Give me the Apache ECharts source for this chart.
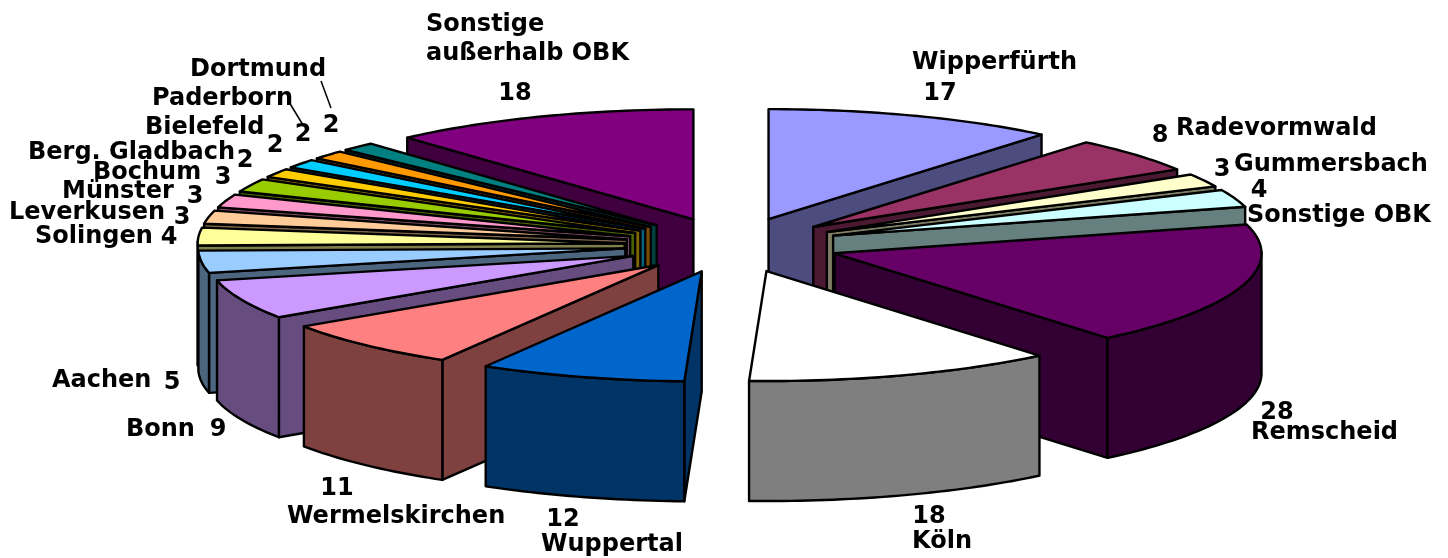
<!DOCTYPE html>
<html>
<head>
<meta charset="utf-8">
<title>Herkunft</title>
<style>
html,body{margin:0;padding:0;background:#fff;}
#main{width:1448px;height:558px;}
</style>
<script src="https://cdn.jsdelivr.net/npm/echarts@6/dist/echarts.min.js"></script>
</head>
<body>
<div id="main"></div>
<script>
var categories = ["Wipperfürth","Radevormwald","Gummersbach","Sonstige OBK","Remscheid","Köln","Wuppertal","Wermelskirchen","Bonn","Aachen","Solingen","Leverkusen","Münster","Bochum","Berg. Gladbach","Bielefeld","Paderborn","Dortmund","Sonstige außerhalb OBK"];
var values = [17,8,3,4,28,18,12,11,9,5,4,3,3,3,2,2,2,2,18];
var sliceColors = ["#9999ff","#993366","#ffffcc","#ccffff","#660066","#ffffff","#0066cc","#ff8080","#cc99ff","#99ccff","#ffff99","#ffcc99","#ff99cc","#99cc00","#ffcc00","#00ccff","#ff9900","#008080","#800080"];

// Beschriftung: [Name links, Name y, Wert mitte x, Wert y]
var nameSpots = [[912,61],[1176,127],[1234,163],[1247,214],[1251,431],[912,540],[541,543],[287,515],[126,428],[52,379],[35,235],[9,211],[62,190],[93,171],[28,151],[145,126],[152,97],[190,68]];
var valueSpots = [[940,92],[1160,134],[1222,168],[1259,189],[1277,411],[929,515],[563,518],[337,487],[218,428],[172,381],[169,236],[182,216],[195,195],[223,176],[245,159],[275,144],[303,133],[331,124],[515,92]];
var leaderLines = [[321,81,331,108],[289,102,303,125]];

// Geometrie der Torte
var cx = 732, cy = 245, rx = 427, ry = 110, depth = 120, explodeX = 107.5, explodeY = 27.5;

var total = 0;
for (var i = 0; i < values.length; i++) total += values[i];

var slices = [], sum = 0;
for (var i = 0; i < values.length; i++) {
    var a0 = sum / total * Math.PI * 2;
    sum += values[i];
    var a1 = sum / total * Math.PI * 2;
    slices.push({idx: i, a0: a0, a1: a1, mid: (a0 + a1) / 2});
}
// hinten zuerst zeichnen
var drawOrder = slices.slice().sort(function (a, b) {
    return Math.cos(b.mid) - Math.cos(a.mid);
});

function darker(hex) {
    var n = parseInt(hex.slice(1), 16);
    return "rgb(" + ((n >> 16) >> 1) + "," + (((n >> 8) & 255) >> 1) + "," + ((n & 255) >> 1) + ")";
}

function renderSlice(params, api) {
    var s = slices[api.value(0)];
    var ax = cx + explodeX * Math.sin(s.mid);
    var ay = cy - explodeY * Math.cos(s.mid);
    function rim(a, dz) {
        return [ax + rx * Math.sin(a), ay - ry * Math.cos(a) + dz];
    }
    var top = [[ax, ay]], wall = [], wallBack = [];
    var steps = Math.max(2, Math.ceil((s.a1 - s.a0) / 0.02));
    for (var k = 0; k <= steps; k++) {
        var a = s.a0 + (s.a1 - s.a0) * k / steps;
        top.push(rim(a, 0));
        if (Math.cos(a) <= 0.02) {
            wall.push(rim(a, 0));
            wallBack.unshift(rim(a, depth));
        }
    }
    var top_c = sliceColors[s.idx], side_c = darker(top_c);
    var line = {stroke: "#000", lineWidth: 2.4, lineJoin: "round", fill: side_c};
    var kids = [];
    // Schnittflaechen
    if (Math.sin(s.a0) < 0) {
        var p = rim(s.a0, 0), q = rim(s.a0, depth);
        kids.push({type: "polygon", shape: {points: [[ax, ay], p, q, [ax, ay + depth]]}, style: line});
    }
    if (Math.sin(s.a1) > 0) {
        var p2 = rim(s.a1, 0), q2 = rim(s.a1, depth);
        kids.push({type: "polygon", shape: {points: [[ax, ay], p2, q2, [ax, ay + depth]]}, style: line});
    }
    if (wall.length > 1) {
        kids.push({type: "polygon", shape: {points: wall.concat(wallBack)}, style: line});
    }
    kids.push({type: "polygon", shape: {points: top}, style: {stroke: "#000", lineWidth: 2.4, lineJoin: "round", fill: top_c}});
    return {type: "group", children: kids};
}

var texts = [];
function addText(str, x, y, align) {
    texts.push({
        type: "text", x: x, y: y + 1.5, z: 10,
        style: {text: str, fontFamily: "'DejaVu Sans'", fontWeight: "bold", fontSize: 24, fill: "#000", textAlign: align, textVerticalAlign: "middle"}
    });
}
for (var i = 0; i < nameSpots.length; i++) {
    addText(categories[i], nameSpots[i][0], nameSpots[i][1], "left");
}
for (var i = 0; i < valueSpots.length; i++) {
    addText(String(values[i]), valueSpots[i][0], valueSpots[i][1], "center");
}
// letzter Name steht zweizeilig
addText("Sonstige", 426, 23, "left");
addText("außerhalb OBK", 426, 52, "left");
for (var i = 0; i < leaderLines.length; i++) {
    var l = leaderLines[i];
    texts.push({type: "line", z: 10, shape: {x1: l[0], y1: l[1], x2: l[2], y2: l[3]}, style: {stroke: "#000", lineWidth: 1.5}});
}

var myChart = echarts.init(document.getElementById("main"), null, {renderer: "canvas"});
myChart.setOption({
    animation: false,
    backgroundColor: "#fff",
    graphic: texts,
    series: [{
        type: "custom",
        coordinateSystem: "none",
        silent: true,
        clip: false,
        renderItem: renderSlice,
        data: drawOrder.map(function (s) { return [s.idx, values[s.idx]]; })
    }]
});
</script>
</body>
</html>
